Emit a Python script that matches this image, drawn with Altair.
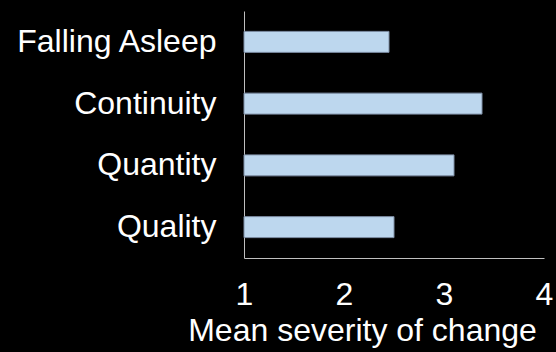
import altair as alt
import pandas as pd

# Sleep aspects and their mean severity of change (scale 1-4)
aspects = ["Falling Asleep", "Continuity", "Quantity", "Quality"]
severity = [2.45, 3.38, 3.10, 2.50]
baseline = [1, 1, 1, 1]

df = pd.DataFrame({"aspect": aspects, "severity": severity, "base": baseline})

FONT = "Liberation Sans"

bars = alt.Chart(df).mark_bar(
    color="#BDD7EE", stroke="#7F8FA6", strokeWidth=1
).encode(
    x=alt.X(
        "severity:Q",
        scale=alt.Scale(domain=[1, 4], nice=False, zero=False),
        axis=alt.Axis(
            values=[1, 2, 3, 4],
            format="d",
            title="Mean severity of change",
            grid=False,
            ticks=False,
            domainColor="#BFBFBF",
            domainWidth=1,
            labelColor="white",
            labelFont=FONT,
            labelFontSize=32,
            labelPadding=21,
            labelFlush=False,
            titleColor="white",
            titleFont=FONT,
            titleFontSize=32,
            titleFontWeight="normal",
            titlePadding=5,
            titleX=118,
        ),
    ),
    x2="base:Q",
    y=alt.Y(
        "aspect:N",
        sort=aspects,
        scale=alt.Scale(paddingInner=0.66, paddingOuter=0.33),
        axis=alt.Axis(
            title=None,
            ticks=False,
            domainColor="#BFBFBF",
            domainWidth=1,
            labelColor="white",
            labelFont=FONT,
            labelFontSize=32,
            labelPadding=28,
            labelLimit=400,
        ),
    ),
)

chart = bars.properties(
    width=300,
    height=247,
    background="black",
    autosize=alt.AutoSizeParams(type="none"),
    padding={"left": 244, "top": 11, "right": 12, "bottom": 94},
).configure_view(stroke=None)

chart.save("out.html", embed_options={"renderer": "svg", "actions": False})
